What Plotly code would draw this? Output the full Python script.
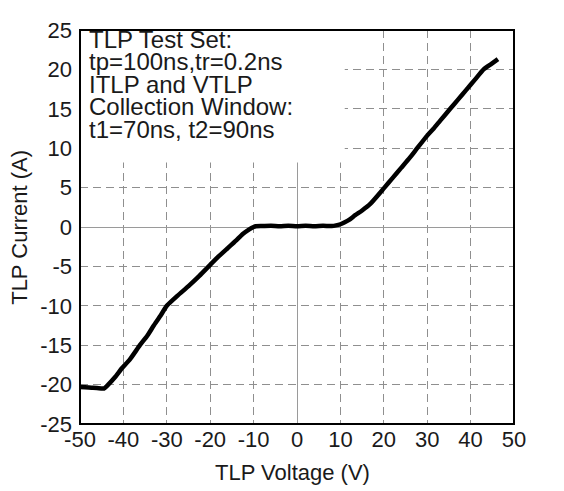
import plotly.graph_objects as go

# TLP I-V curve
voltage = [-50, -47, -45, -44.5, -43.5, -42, -40.3, -38.5, -36.2, -34.5, -33, -31.5, -30,
           -27.5, -25, -22.5, -20, -18, -16, -14, -12.5, -11, -10, -9.5, -8, -6, -4, -2,
           0, 2, 4, 6, 8, 9, 10, 11, 12, 13.4, 15, 17, 20, 22, 24, 26, 27.7, 30, 31.5,
           33, 35.3, 37, 39, 41, 43, 44.8, 46.3]
current = [-20.3, -20.4, -20.5, -20.5, -20.0, -19.1, -17.9, -16.8, -15.0, -13.8, -12.5, -11.3, -10.0,
           -8.7, -7.5, -6.2, -4.8, -3.7, -2.7, -1.7, -0.9, -0.3, 0.0, 0.1, 0.12, 0.15, 0.1, 0.15,
           0.1, 0.15, 0.1, 0.15, 0.12, 0.2, 0.35, 0.6, 0.9, 1.5, 2.1, 3.0, 4.9, 6.2, 7.5, 8.8, 10.0, 11.6, 12.5,
           13.5, 15.0, 16.1, 17.4, 18.7, 20.0, 20.7, 21.3]

x_ticks = [-50, -40, -30, -20, -10, 0, 10, 20, 30, 40, 50]
y_ticks = [-25, -20, -15, -10, -5, 0, 5, 10, 15, 20, 25]

note_lines = ["TLP Test Set:", "tp=100ns,tr=0.2ns", "ITLP and VTLP",
              "Collection Window:", "t1=70ns, t2=90ns"]
note_y = [23.8, 20.95, 18.1, 15.25, 12.4]

FONT = "Liberation Sans, Arial, sans-serif"
TXT = "#1a1a1a"

fig = go.Figure()
fig.add_trace(go.Scatter(x=voltage, y=current, mode="lines",
                         line=dict(color="black", width=4.5, shape="spline", smoothing=0.5),
                         showlegend=False))

axis_common = dict(showgrid=True, gridcolor="#8f8f8f", gridwidth=1, griddash="8px,5px",
                   zeroline=True, zerolinecolor="#9a9a9a", zerolinewidth=1,
                   showline=False, ticks="", ticklabeloverflow="allow",
                   tickfont=dict(family=FONT, size=22, color=TXT))

fig.update_xaxes(range=[-50, 50], tickvals=x_ticks, ticktext=[str(v) for v in x_ticks],
                 ticklabelstandoff=0, **axis_common)
fig.update_yaxes(range=[-25, 25], tickvals=y_ticks, ticktext=[str(v) for v in y_ticks],
                 ticklabelstandoff=7, **axis_common)

# white box behind the note text (covers grid)
fig.add_shape(type="rect", xref="x", yref="y", x0=-50, x1=11, y0=8.2, y1=25,
              fillcolor="white", line=dict(width=0), layer="above")
# plot frame
fig.add_shape(type="rect", xref="x domain", yref="y domain", x0=0, x1=1, y0=0, y1=1,
              line=dict(color="black", width=2), layer="above")

for txt, yy in zip(note_lines, note_y):
    fig.add_annotation(x=-48.4, y=yy, xref="x", yref="y", text=txt, showarrow=False,
                       xanchor="left", yanchor="middle",
                       font=dict(family=FONT, size=24, color=TXT))

fig.add_annotation(x=-0.141, y=0.5, xref="paper", yref="paper", text="TLP Current (A)",
                   textangle=-90, showarrow=False, xanchor="center", yanchor="middle",
                   font=dict(family=FONT, size=22, color=TXT))
fig.add_annotation(x=0.49, y=-0.123, xref="paper", yref="paper", text="TLP Voltage (V)",
                   showarrow=False, xanchor="center", yanchor="middle",
                   font=dict(family=FONT, size=22, color=TXT))

# page body adds an 8px offset, so the figure is sized to fit the 564x491 window
fig.update_layout(width=556, height=483, margin=dict(l=72, r=50, t=10, b=67),
                  plot_bgcolor="white", paper_bgcolor="white")

fig.write_html("out.html")
